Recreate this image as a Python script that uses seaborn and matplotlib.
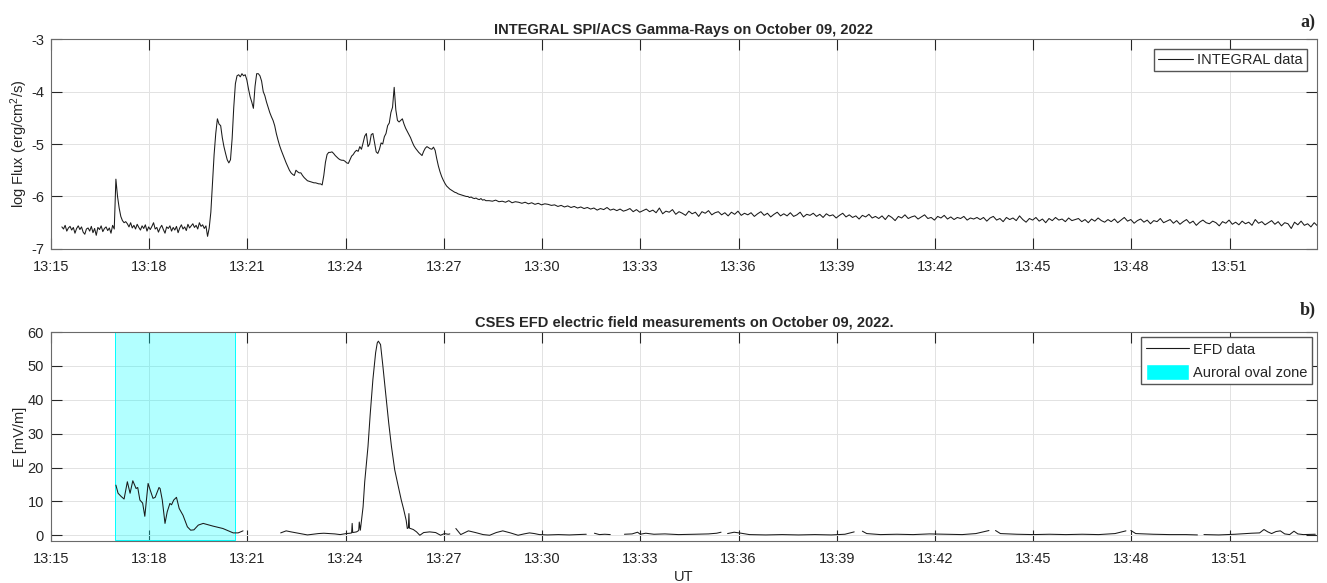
import pandas as pd
import matplotlib
matplotlib.use("Agg")
import matplotlib.pyplot as plt
import matplotlib.dates as mdates
from matplotlib.lines import Line2D
from matplotlib.patches import Patch
import seaborn as sns

day = "2022-10-09"

# INTEGRAL SPI/ACS log flux (erg/cm2/s), burst part read every 3 s
flux_burst_start = "13:15:20"
flux_burst_step = 3
flux_burst = [
    -6.58, -6.62, -6.55, -6.66, -6.60, -6.57, -6.64, -6.59, -6.70, -6.61,
    -6.56, -6.63, -6.58, -6.68, -6.72, -6.62, -6.60, -6.66, -6.57, -6.69,
    -6.61, -6.74, -6.59, -6.63, -6.56, -6.67, -6.61, -6.58, -6.65, -6.60,
    -6.70, -6.55, -6.62, -5.67, -6.00, -6.22, -6.38, -6.46, -6.50, -6.48,
    -6.52, -6.58, -6.50, -6.60, -6.55, -6.62, -6.53, -6.59, -6.64, -6.56,
    -6.61, -6.54, -6.66, -6.58, -6.63, -6.57, -6.50, -6.62, -6.59, -6.68,
    -6.60, -6.55, -6.63, -6.70, -6.58, -6.61, -6.56, -6.66, -6.59, -6.64,
    -6.57, -6.69, -6.60, -6.54, -6.62, -6.58, -6.65, -6.53, -6.60, -6.56,
    -6.52, -6.59, -6.55, -6.62, -6.50, -6.57, -6.54, -6.61, -6.56, -6.76,
    -6.60, -6.30, -5.75, -5.20, -4.80, -4.52, -4.62, -4.65, -4.88, -5.05,
    -5.18, -5.30, -5.36, -5.30, -4.90, -4.30, -3.85, -3.70, -3.68, -3.72,
    -3.66, -3.70, -3.68, -3.78, -3.95, -4.10, -4.20, -4.32, -3.90, -3.66,
    -3.66, -3.70, -3.80, -4.00, -4.08, -4.20, -4.30, -4.40, -4.48, -4.55,
    -4.65, -4.80, -4.92, -5.03, -5.12, -5.20, -5.28, -5.36, -5.43, -5.50,
    -5.55, -5.58, -5.60, -5.50, -5.53, -5.55, -5.55, -5.60, -5.64, -5.67,
    -5.70, -5.71, -5.72, -5.73, -5.74, -5.74, -5.75, -5.76, -5.76, -5.78,
    -5.60, -5.35, -5.20, -5.16, -5.16, -5.15, -5.18, -5.22, -5.25, -5.28,
    -5.30, -5.31, -5.31, -5.33, -5.36, -5.37, -5.30, -5.23, -5.20, -5.15,
    -5.12, -5.14, -5.05, -5.10, -4.98, -4.85, -4.80, -5.05, -5.00, -4.82,
    -4.80, -4.98, -5.15, -5.18, -5.10, -4.98, -5.00, -4.86, -4.80, -4.65,
    -4.60, -4.40, -4.30, -3.92, -4.35, -4.55, -4.58, -4.55, -4.52, -4.62,
    -4.70, -4.76, -4.82, -4.88, -4.96, -5.03, -5.08, -5.12, -5.16, -5.19,
    -5.22, -5.14, -5.08, -5.05, -5.07, -5.09, -5.10, -5.06, -5.12, -5.28,
    -5.42, -5.53, -5.62, -5.69, -5.75, -5.80, -5.83, -5.86, -5.88, -5.90,
    -5.92, -5.93, -5.95, -5.96, -5.97, -5.98, -5.99, -6.00, -6.00, -6.02,
    -6.01, -6.03, -6.04, -6.03, -6.05, -6.06, -6.04, -6.07, -6.06, -6.08,
]

# slow decay after the burst, read every 6 s
flux_tail_start = "13:28:23"
flux_tail_step = 6
flux_tail = [
    -6.08, -6.09, -6.07, -6.10, -6.09, -6.11, -6.08, -6.12, -6.10, -6.11,
    -6.13, -6.11, -6.14, -6.12, -6.15, -6.13, -6.16, -6.14, -6.15, -6.17,
    -6.16, -6.19, -6.17, -6.20, -6.18, -6.21, -6.19, -6.22, -6.20, -6.23,
    -6.21, -6.24, -6.22, -6.26, -6.23, -6.25, -6.21, -6.26, -6.24, -6.27,
    -6.24, -6.28, -6.26, -6.23, -6.29, -6.25, -6.30, -6.27, -6.24, -6.29,
    -6.26, -6.31, -6.22, -6.33, -6.28, -6.30, -6.25, -6.34, -6.29, -6.32,
    -6.36, -6.28, -6.33, -6.30, -6.38, -6.29, -6.32, -6.27, -6.35, -6.31,
    -6.29, -6.35, -6.31, -6.37, -6.30, -6.34, -6.28, -6.36, -6.32, -6.35,
    -6.31, -6.38, -6.33, -6.29, -6.36, -6.32, -6.39, -6.34, -6.30, -6.37,
    -6.33, -6.37, -6.31, -6.38, -6.35, -6.30, -6.39, -6.34, -6.36, -6.32,
    -6.38, -6.34, -6.40, -6.33, -6.37, -6.35, -6.41, -6.36, -6.32, -6.39,
    -6.35, -6.40, -6.37, -6.43, -6.36, -6.39, -6.34, -6.41, -6.38, -6.42,
    -6.37, -6.44, -6.36, -6.40, -6.46, -6.38, -6.41, -6.35, -6.42, -6.39,
    -6.37, -6.43, -6.39, -6.35, -6.42, -6.40, -6.45, -6.38, -6.41, -6.36,
    -6.43, -6.39, -6.44, -6.40, -6.42, -6.38, -6.45, -6.41, -6.43, -6.40,
    -6.44, -6.40, -6.47, -6.41, -6.38, -6.45, -6.42, -6.48, -6.40, -6.44,
    -6.41, -6.46, -6.37, -6.44, -6.49, -6.42, -6.45, -6.40, -6.47, -6.43,
    -6.50, -6.42, -6.46, -6.40, -6.45, -6.43, -6.48, -6.41, -6.46, -6.44,
    -6.42, -6.48, -6.44, -6.50, -6.43, -6.47, -6.41, -6.46, -6.49, -6.44,
    -6.48, -6.43, -6.50, -6.45, -6.40, -6.47, -6.44, -6.51, -6.46, -6.43,
    -6.49, -6.45, -6.52, -6.46, -6.48, -6.42, -6.50, -6.47, -6.44, -6.51,
    -6.46, -6.53, -6.48, -6.44, -6.51, -6.47, -6.55, -6.49, -6.45, -6.50,
    -6.52, -6.47, -6.50, -6.56, -6.48, -6.51, -6.45, -6.53, -6.49, -6.54,
    -6.47, -6.52, -6.49, -6.55, -6.44, -6.51, -6.48, -6.54, -6.50, -6.46,
    -6.53, -6.48, -6.56, -6.50, -6.52, -6.61, -6.49, -6.54, -6.47, -6.55,
    -6.52, -6.58, -6.50, -6.56,
]

# CSES EFD electric field (mV/m); None marks a gap in the record
efd_time = [
    "13:16:59", "13:17:03", "13:17:09", "13:17:14", "13:17:20", "13:17:25",
    "13:17:30", "13:17:36", "13:17:39", "13:17:43", "13:17:48", "13:17:52",
    "13:17:58", "13:18:02", "13:18:07", "13:18:11", "13:18:18", "13:18:20",
    "13:18:24", "13:18:29", "13:18:33", "13:18:38", "13:18:41", "13:18:45",
    "13:18:50", "13:18:55", "13:19:02", "13:19:10", "13:19:16", "13:19:22",
    "13:19:30", "13:19:39", "13:19:57", "13:20:15", "13:20:34", "13:20:43",
    "13:20:52", None,
    "13:22:01", "13:22:11", "13:22:20", "13:22:30", "13:22:40", "13:22:50",
    "13:23:00", "13:23:10", "13:23:20", "13:23:30", "13:23:40", "13:23:50",
    "13:24:01", "13:24:08", "13:24:11", "13:24:12", "13:24:13", "13:24:20",
    "13:24:24", "13:24:25", "13:24:27", "13:24:32", "13:24:35", "13:24:41",
    "13:24:45", "13:24:50", "13:24:55", "13:24:58", "13:25:00", "13:25:04",
    "13:25:08", "13:25:13", "13:25:19", "13:25:24", "13:25:30", "13:25:36",
    "13:25:42", "13:25:46", "13:25:51", "13:25:53", "13:25:55", "13:25:56",
    "13:25:57", "13:26:04", "13:26:10", "13:26:16", "13:26:23", "13:26:34",
    "13:26:45", "13:26:54", "13:27:01", "13:27:08", "13:27:11", None,
    "13:27:22", "13:27:31", "13:27:45", "13:27:58", "13:28:12", "13:28:24",
    "13:28:36", "13:28:48", "13:29:02", "13:29:16", "13:29:27", "13:29:37",
    "13:29:46", "13:29:55", "13:30:10", "13:30:30", "13:30:50", "13:31:05",
    "13:31:21", None,
    "13:31:36", "13:31:45", "13:31:55", "13:32:05", None,
    "13:32:31", "13:32:45", "13:32:55", "13:33:00", "13:33:10", "13:33:25",
    "13:33:45", "13:34:10", "13:34:40", "13:35:05", "13:35:20", "13:35:28", None,
    "13:35:40", "13:35:52", "13:36:05", "13:36:20", "13:36:50", "13:37:20",
    "13:37:50", "13:38:20", "13:38:50", "13:39:15", "13:39:32", None,
    "13:39:47", "13:39:55", "13:40:20", "13:40:50", "13:41:20", "13:41:50",
    "13:42:20", "13:42:50", "13:43:15", "13:43:39", None,
    "13:43:51", "13:44:00", "13:44:30", "13:45:00", "13:45:30", "13:46:00",
    "13:46:30", "13:47:00", "13:47:30", "13:47:50", None,
    "13:47:59", "13:48:08", "13:48:40", "13:49:10", "13:49:40", "13:50:01", None,
    "13:50:13", "13:50:40", "13:51:10", "13:51:40", "13:51:55", "13:52:03",
    "13:52:10", "13:52:17", "13:52:25", "13:52:33", "13:52:41", "13:52:50",
    "13:52:58", "13:53:05", "13:53:15", "13:53:37",
]
efd_value = [
    14.8, 12.4, 11.4, 10.7, 15.8, 12.4,
    16.1, 13.8, 14.1, 10.4, 9.5, 5.6,
    15.3, 13.3, 10.9, 11.2, 14.1, 13.8,
    10.4, 3.5, 6.9, 9.4, 9.0, 10.4,
    11.2, 7.9, 5.9, 2.5, 1.5, 1.6,
    3.0, 3.5, 2.7, 2.0, 0.7, 0.7,
    1.3, None,
    0.7, 1.3, 1.0, 0.7, 0.4, 0.1,
    0.3, 0.5, 0.6, 0.5, 0.4, 0.2,
    0.5, 0.6, 0.7, 3.5, 0.8, 1.0,
    1.4, 3.9, 1.5, 8.4, 15.8, 26.2,
    35.6, 46.0, 53.9, 56.8, 57.3, 56.3,
    50.4, 42.5, 33.1, 26.2, 19.3, 14.8,
    10.4, 7.9, 4.4, 2.0, 2.2, 6.4,
    2.1, 1.7, 1.0, 0.0, 0.8, 1.0,
    0.8, 0.0, 0.5, 0.3, 0.4, None,
    2.0, 0.2, 1.3, 0.8, 0.2, 0.0,
    0.8, 1.3, 0.7, 0.0, 0.4, 0.7,
    0.5, 0.2, 0.1, 0.2, 0.1, 0.2,
    0.3, None,
    0.6, 0.2, 0.3, 0.2, None,
    0.3, 0.4, 0.9, 0.3, 0.6, 0.3,
    0.4, 0.2, 0.3, 0.4, 0.6, 0.9, None,
    0.5, 0.9, 0.6, 0.2, 0.1, 0.2,
    0.1, 0.2, 0.1, 0.3, 1.0, None,
    1.2, 0.5, 0.2, 0.3, 0.2, 0.4,
    0.3, 0.2, 0.5, 1.4, None,
    1.4, 0.5, 0.3, 0.2, 0.3, 0.2,
    0.3, 0.2, 0.5, 1.3, None,
    1.4, 0.5, 0.3, 0.2, 0.2, 0.1, None,
    0.2, 0.1, 0.3, 0.6, 0.7, 1.7,
    1.0, 0.5, 1.1, 1.3, 0.4, 0.2,
    1.2, 0.4, 0.2, 0.3,
]

# auroral oval crossing
auroral_start = "13:16:58"
auroral_end = "13:20:37"
auroral_low = -1.3
auroral_high = 60

x_start = "13:15:00"
x_end = "13:53:40"
tick_minutes = list(range(15, 54, 3))


def sampled(start, step, values):
    t = pd.date_range(f"{day} {start}", periods=len(values), freq=f"{step}s")
    return pd.DataFrame({"time": t, "flux": values})


flux = pd.concat([sampled(flux_burst_start, flux_burst_step, flux_burst),
                  sampled(flux_tail_start, flux_tail_step, flux_tail)],
                 ignore_index=True)

efd = pd.DataFrame({
    "time": pd.to_datetime([f"{day} {t}" if t else None for t in efd_time]),
    "E": pd.to_numeric(pd.Series(efd_value, dtype="object"), errors="coerce"),
})
efd["segment"] = efd["E"].isna().cumsum()
efd = efd.dropna()

sns.set_style("ticks")
plt.rcParams["font.family"] = ["Liberation Sans", "DejaVu Sans"]
plt.rcParams["mathtext.default"] = "regular"
plt.rcParams["axes.unicode_minus"] = False

line_col = "#1a1a1a"
cyan = "#00ffff"
fs = 10.5

fig = plt.figure(figsize=(13.27, 5.83), dpi=100)
ax1 = fig.add_axes([0.0384, 0.573, 0.954, 0.360])
ax2 = fig.add_axes([0.0384, 0.072, 0.954, 0.3585])


def style(ax):
    ax.grid(True, color="#e2e2e2", lw=0.7)
    ax.set_axisbelow(True)
    ax.tick_params(direction="in", length=8, width=0.8, colors="#262626",
                   labelsize=fs, top=True, right=True)
    ax.tick_params(axis="x", pad=8)
    ax.tick_params(axis="y", pad=5)
    for s in ax.spines.values():
        s.set_color("#6a6a6a")
        s.set_linewidth(0.8)
    ax.xaxis.set_major_locator(mdates.MinuteLocator(byminute=tick_minutes))
    ax.xaxis.set_major_formatter(mdates.DateFormatter("%H:%M"))
    ax.set_xlim(pd.Timestamp(f"{day} {x_start}"), pd.Timestamp(f"{day} {x_end}"))


legend_kw = dict(loc="upper right", fancybox=False, edgecolor="#555555",
                 framealpha=1, fontsize=fs, handletextpad=0.3)

# a) INTEGRAL
sns.lineplot(data=flux, x="time", y="flux", ax=ax1, color=line_col, lw=0.75)
style(ax1)
ax1.set_ylim(-7, -3)
ax1.set_yticks([-7, -6, -5, -4, -3])
ax1.set_xlabel("")
ax1.set_ylabel("log Flux (erg/cm$^2$/s)", fontsize=fs, color="#262626", labelpad=0.5)
ax1.set_title("INTEGRAL SPI/ACS Gamma-Rays on October 09, 2022",
              fontsize=fs, fontweight="bold", pad=4)
ax1.legend(handles=[Line2D([], [], color=line_col, lw=0.8)], labels=["INTEGRAL data"],
           handlelength=2.4, borderpad=0.25, borderaxespad=0.7, **legend_kw)

# b) CSES EFD
zone = [pd.Timestamp(f"{day} {auroral_start}"), pd.Timestamp(f"{day} {auroral_end}")]
ax2.fill_between(zone, auroral_low, auroral_high, facecolor=cyan, alpha=0.3,
                 edgecolor="none", zorder=1)
ax2.fill_between(zone, auroral_low, auroral_high, facecolor="none", edgecolor=cyan,
                 lw=0.7, zorder=1)
sns.lineplot(data=efd, x="time", y="E", units="segment", estimator=None, ax=ax2,
             color=line_col, lw=0.75, zorder=3)
style(ax2)
ax2.set_ylim(-1.7, 60)
ax2.set_yticks(range(0, 61, 10))
ax2.set_xlabel("UT", fontsize=fs, color="#262626", labelpad=3)
ax2.set_ylabel("E [mV/m]", fontsize=fs, color="#262626", labelpad=0.5)
ax2.set_title("CSES EFD electric field measurements on October 09, 2022.",
              fontsize=fs, fontweight="bold", pad=4)
ax2.legend(handles=[Line2D([], [], color=line_col, lw=0.8), Patch(facecolor=cyan)],
           labels=["EFD data", "Auroral oval zone"], handlelength=2.95,
           handleheight=1.3, borderpad=0.3, labelspacing=0.45,
           borderaxespad=0.35, **legend_kw)

fig.text(0.9857, 0.962, "a)", family="Liberation Serif", fontweight="bold",
         fontsize=13, ha="center", va="center")
fig.text(0.9857, 0.468, "b)", family="Liberation Serif", fontweight="bold",
         fontsize=13, ha="center", va="center")

fig.savefig("out.png", dpi=100)
